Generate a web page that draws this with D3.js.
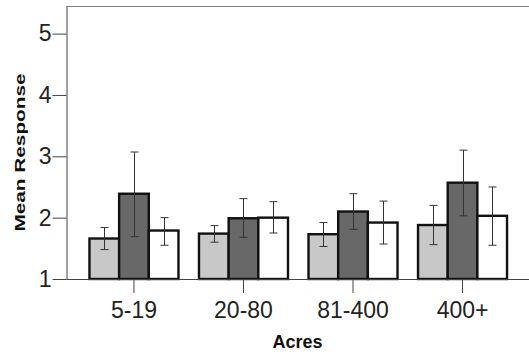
<!DOCTYPE html>
<html>
<head>
<meta charset="utf-8">
<script src="https://cdn.jsdelivr.net/npm/d3@7"></script>
<style>
  html, body { margin: 0; padding: 0; background: #fff; }
  svg { display: block; font-family: "Liberation Sans", Arial, sans-serif; }
</style>
</head>
<body>
<svg id="chart" width="529" height="356"></svg>
<script>
// Acreage classes along the x axis
const categories = ["5-19", "20-80", "81-400", "400+"];
// Three respondent groups per acreage class
const seriesNames = ["Group 1", "Group 2", "Group 3"];
const seriesFill = ["#c8c8c8", "#686868", "#ffffff"];

// Mean response per group, in category order
const meanGroup1 = [1.66, 1.74, 1.73, 1.88];
const meanGroup2 = [2.39, 1.99, 2.10, 2.57];
const meanGroup3 = [1.79, 2.00, 1.92, 2.03];

// Error bar limits (upper / lower)
const upperGroup1 = [1.84, 1.87, 1.92, 2.20];
const lowerGroup1 = [1.48, 1.60, 1.53, 1.56];
const upperGroup2 = [3.07, 2.31, 2.39, 3.10];
const lowerGroup2 = [1.69, 1.68, 1.81, 2.03];
const upperGroup3 = [2.00, 2.26, 2.27, 2.50];
const lowerGroup3 = [1.55, 1.75, 1.57, 1.55];

const yTicks = [1, 2, 3, 4, 5];

const means = [meanGroup1, meanGroup2, meanGroup3];
const uppers = [upperGroup1, upperGroup2, upperGroup3];
const lowers = [lowerGroup1, lowerGroup2, lowerGroup3];

const rows = [];
categories.forEach((c, i) => {
  seriesNames.forEach((s, j) => {
    rows.push({ cat: c, series: s, idx: j, mean: means[j][i], hi: uppers[j][i], lo: lowers[j][i] });
  });
});

const svg = d3.select("#chart");
const plotLeft = 66.5, plotRight = 530, plotTop = 6, plotBottom = 279;

const x = d3.scaleBand().domain(categories).range([plotLeft, plotRight]).paddingInner(0).paddingOuter(0.116);
const x1 = d3.scaleBand().domain(seriesNames).range([-44.5, 44.5]);
const y = d3.scaleLinear().domain([1, 5.45]).range([plotBottom, plotTop]);

// frame top line
svg.append("line")
  .attr("x1", plotLeft).attr("x2", 529).attr("y1", plotTop + 0.5).attr("y2", plotTop + 0.5)
  .attr("stroke", "#808080").attr("stroke-width", 1.2);

// bars
svg.append("g").selectAll("rect").data(rows).join("rect")
  .attr("x", d => x(d.cat) + x.bandwidth() / 2 + x1(d.series))
  .attr("width", x1.bandwidth())
  .attr("y", d => y(d.mean))
  .attr("height", d => y(1) - y(d.mean))
  .attr("fill", d => seriesFill[d.idx])
  .attr("stroke", "#111")
  .attr("stroke-width", 2.4);

// error bars
const eb = svg.append("g").attr("stroke", "#333").attr("stroke-width", 1).attr("fill", "none");
rows.forEach(d => {
  const cx = Math.round(x(d.cat) + x.bandwidth() / 2 + x1(d.series) + x1.bandwidth() / 2) + 0.5;
  eb.append("line").attr("x1", cx).attr("x2", cx).attr("y1", y(d.hi)).attr("y2", y(d.lo));
  eb.append("line").attr("x1", cx - 4).attr("x2", cx + 4).attr("y1", y(d.hi)).attr("y2", y(d.hi));
  eb.append("line").attr("x1", cx - 4).attr("x2", cx + 4).attr("y1", y(d.lo)).attr("y2", y(d.lo));
});

// y axis
const yAxis = svg.append("g").attr("transform", `translate(${plotLeft},0)`)
  .call(d3.axisLeft(y).tickValues(yTicks).tickFormat(d3.format("d")).tickSize(14).tickPadding(1).tickSizeOuter(0));
yAxis.select(".domain").attr("stroke", "#444");
yAxis.selectAll(".tick line").attr("stroke", "#444");
yAxis.selectAll("text").attr("font-size", 23).attr("fill", "#222");

// x axis
const xAxis = svg.append("g").attr("transform", `translate(0,${plotBottom})`)
  .call(d3.axisBottom(x).tickSize(14).tickPadding(9).tickSizeOuter(0));
xAxis.select(".domain").attr("d", `M${plotLeft},0.5H529`).attr("stroke", "#444");
xAxis.selectAll(".tick line").attr("stroke", "#444");
xAxis.selectAll("text").attr("font-size", 23).attr("fill", "#222");

// axis titles
svg.append("text")
  .attr("x", 297.5).attr("y", 347.5)
  .attr("text-anchor", "middle")
  .attr("font-size", 18).attr("font-weight", "bold").attr("fill", "#111")
  .text("Acres");

svg.append("text")
  .attr("transform", "translate(25,152.5) rotate(-90)")
  .attr("text-anchor", "middle")
  .attr("font-size", 15).attr("font-weight", "bold").attr("fill", "#111")
  .attr("textLength", 158).attr("lengthAdjust", "spacingAndGlyphs")
  .text("Mean Response");
</script>
</body>
</html>
